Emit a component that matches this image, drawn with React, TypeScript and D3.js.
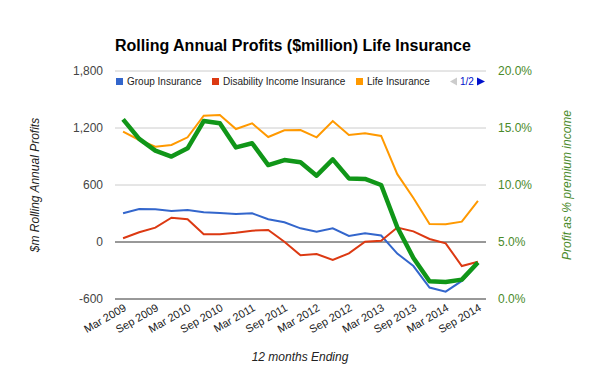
import React from 'react';
import * as d3 from 'd3';

// quarterly, 12 months ending
const quarters = [
  'Mar 2009', 'Jun 2009', 'Sep 2009', 'Dec 2009',
  'Mar 2010', 'Jun 2010', 'Sep 2010', 'Dec 2010',
  'Mar 2011', 'Jun 2011', 'Sep 2011', 'Dec 2011',
  'Mar 2012', 'Jun 2012', 'Sep 2012', 'Dec 2012',
  'Mar 2013', 'Jun 2013', 'Sep 2013', 'Dec 2013',
  'Mar 2014', 'Jun 2014', 'Sep 2014',
];
const xTickLabels = [
  'Mar 2009', 'Sep 2009', 'Mar 2010', 'Sep 2010', 'Mar 2011', 'Sep 2011',
  'Mar 2012', 'Sep 2012', 'Mar 2013', 'Sep 2013', 'Mar 2014', 'Sep 2014',
];

const groupInsurance = [302, 347, 344, 326, 337, 312, 305, 295, 302, 239, 207, 144, 109, 144, 63, 91, 68, -122, -253, -479, -523, -410, -230];
const disabilityIncome = [39, 102, 151, 256, 239, 81, 81, 98, 119, 126, 3, -140, -126, -189, -119, 3, 12, 153, 112, 32, -14, -253, -207];
const lifeInsurance = [1161, 1074, 1003, 1021, 1102, 1330, 1337, 1189, 1249, 1105, 1176, 1179, 1102, 1273, 1126, 1144, 1116, 714, 463, 189, 187, 214, 434];
const profitPct = [15.76, 14.04, 13.01, 12.49, 13.22, 15.61, 15.41, 13.3, 13.66, 11.75, 12.19, 12.0, 10.82, 12.25, 10.58, 10.53, 10.0, 6.3, 3.6, 1.55, 1.5, 1.7, 3.2];

const leftTicks = [-600, 0, 600, 1200, 1800];
const rightTicks = [0, 5, 10, 15, 20];

const FONT = 'Liberation Sans, Arial, sans-serif';
const GREEN_TEXT = '#4a8a2a';

const App = () => {
  const width = 600;
  const height = 371;
  const plot = { left: 115, right: 486, top: 71, bottom: 299 };

  const x = d3.scalePoint<string>().domain(quarters).range([plot.left, plot.right]).padding(0.5);
  const y = d3.scaleLinear().domain([-600, 1800]).range([plot.bottom, plot.top]);
  const yR = d3.scaleLinear().domain([0, 20]).range([plot.bottom, plot.top]);

  const lineL = d3.line<number>().x((d, i) => x(quarters[i]) as number).y((d) => y(d));
  const lineR = d3.line<number>().x((d, i) => x(quarters[i]) as number).y((d) => yR(d));
  const fmt = (v: number) => d3.format(',')(v).replace('\u2212', '-');

  const series = [
    { name: 'Group Insurance', data: groupInsurance, color: '#3366cc' },
    { name: 'Disability Income Insurance', data: disabilityIncome, color: '#dc3912' },
    { name: 'Life Insurance', data: lifeInsurance, color: '#ff9900' },
  ];
  const legendX = [116, 212, 356];

  return (
    <svg width={width} height={height} style={{ position: 'absolute', left: 0, top: 0 }} fontFamily={FONT}>
      <rect width={width} height={height} fill="#fff" />

      <text x={115} y={51} fontSize={16} fontWeight="bold" fill="#000">
        Rolling Annual Profits ($million) Life Insurance
      </text>

      {/* gridlines */}
      {leftTicks.map((t) => (
        <line key={t} x1={plot.left} x2={plot.right} y1={y(t)} y2={y(t)}
          stroke={t <= 0 ? '#333' : '#ccc'} strokeWidth={1} />
      ))}

      {/* left axis */}
      {leftTicks.map((t) => (
        <text key={t} x={103} y={y(t) + 4} textAnchor="end" fontSize={12} fill="#444">{fmt(t)}</text>
      ))}
      {/* right axis */}
      {rightTicks.map((t) => (
        <text key={t} x={498} y={yR(t) + 4} fontSize={12} fill={GREEN_TEXT}>{t.toFixed(1)}%</text>
      ))}

      {/* x labels */}
      {xTickLabels.map((l) => (
        <text key={l} transform={`translate(${(x(l) as number) + 4},${310}) rotate(-30)`}
          textAnchor="end" fontSize={11} fill="#222">{l}</text>
      ))}

      <text x={300} y={361} textAnchor="middle" fontSize={12} fontStyle="italic" fill="#222">12 months Ending</text>
      <text transform="translate(39,185) rotate(-90)" textAnchor="middle" fontSize={12} fontStyle="italic" fill="#222">
        $m Rolling Annual Profits
      </text>
      <text transform="translate(571,185) rotate(-90)" textAnchor="middle" fontSize={12} fontStyle="italic" fill={GREEN_TEXT}>
        Profit as % premium income
      </text>

      {/* legend */}
      {series.map((s, i) => (
        <g key={s.name}>
          <rect x={legendX[i]} y={78} width={7} height={7} fill={s.color} />
          <text x={legendX[i] + 11} y={85} fontSize={10} fill="#222">{s.name}</text>
        </g>
      ))}
      <path d="M450,81.5 L457,77.5 L457,85.5 Z" fill="#ccc" />
      <text x={460} y={85} fontSize={10} fill="#0011cc">1/2</text>
      <path d="M477,77.5 L485,81.5 L477,85.5 Z" fill="#0011cc" />

      {/* series */}
      {series.map((s) => (
        <path key={s.name} d={lineL(s.data) ?? ''} fill="none" stroke={s.color} strokeWidth={2} />
      ))}
      <path d={lineR(profitPct) ?? ''} fill="none" stroke="#109618" strokeWidth={4.5} strokeLinejoin="round" />
    </svg>
  );
};

export default App;
